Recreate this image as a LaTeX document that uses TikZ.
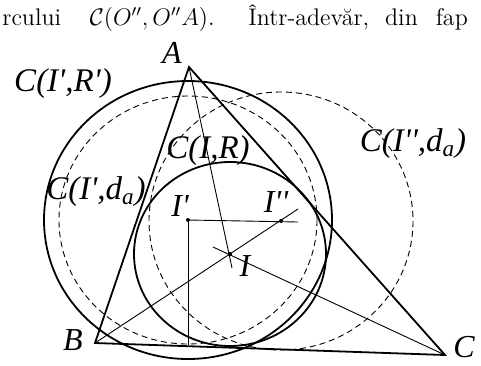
\documentclass[tikz,border=0pt]{standalone}
\usepackage{fontspec}
\newfontfamily\figfont{Liberation Serif}
\begin{document}
\begin{tikzpicture}[
  x=0.5pt, y=-0.5pt,
  side/.style={line width=0.9pt, line join=miter},
  ring/.style={line width=0.9pt},
  aux/.style={line width=0.45pt, dash pattern=on 3pt off 2pt},
  ray/.style={line width=0.45pt},
  dot/.style={circle, fill, inner sep=0pt, minimum size=2pt},
  lbl/.style={font=\figfont\itshape\fontsize{16}{16}\selectfont, inner sep=0pt, text depth=0pt},
  cname/.style={lbl, font=\figfont\itshape\fontsize{16.5}{17}\selectfont},
  txt/.style={font=\fontsize{12}{14}\selectfont, inner sep=0pt, anchor=base west}]
  \clip (0,0) rectangle (481,365);
  % Line of the page above the figure
  \node[txt] (head) at (2,25) {rcului};
  \node[txt, anchor=base east] (headm) at (215,25) {\(\mathcal{C}(O'',O''A)\).};
  \node[txt] (head2) at (248,25) {Într-adevăr,\hspace{8pt}din\hspace{9pt}fap};
  % Points
  \coordinate (A) at (189,67);
  \coordinate (B) at (95,343);
  \coordinate (C) at (445,355);
  \coordinate (I) at (230,254);
  \coordinate (Ip) at (188,220);
  \coordinate (Ipp) at (281,221);
  \coordinate (Aend) at (232,268);
  \coordinate (Bend) at (298,209);
  \coordinate (Cend) at (213,247);
  \coordinate (Hend) at (298,222);
  \coordinate (foot) at (188,345);
  % Circles
  \draw[ring] (Ip) ellipse [x radius=144, y radius=139];
  \draw[ring] (I) ellipse [x radius=96, y radius=92];
  \draw[aux] (Ip) ellipse [x radius=129, y radius=124];
  \draw[aux] (Ipp) ellipse [x radius=132, y radius=129];
  % Triangle
  \draw[side] (A) -- (B) -- (C) -- cycle;
  % Bisectors and the two segments from I'
  \draw[ray] (A) -- (Aend);
  \draw[ray] (B) -- (Bend);
  \draw[ray] (C) -- (Cend);
  \draw[ray] (Ip) -- (Hend);
  \draw[ray] (Ip) -- (foot);
  \node[dot] (dIp) at (Ip) {};
  \node[dot] (dIpp) at (Ipp) {};
  \node[dot] (dI) at (I) {};
  % Labels
  \node[lbl] (labA) at (172,53) {A};
  \node[lbl] (labB) at (73,340) {B};
  \node[lbl] (labC) at (464,347) {C};
  \node[lbl] (labI) at (245,266) {I};
  \node[lbl] (labIp) at (180,206) {I\textquotesingle};
  \node[lbl] (labIpp) at (276,202) {I\textquotesingle\textquotesingle};
  \node[cname] (labRp) at (63,80) {C(I\textquotesingle,R\textquotesingle)};
  \node[cname] (labR) at (208,147) {C(I,R)};
  \node[cname] (labdp) at (96,188) {C(I\textquotesingle,d\textsubscript{a})};
  \node[cname] (labdpp) at (413,140) {C(I\textquotesingle\textquotesingle,d\textsubscript{a})};
\end{tikzpicture}
\end{document}
